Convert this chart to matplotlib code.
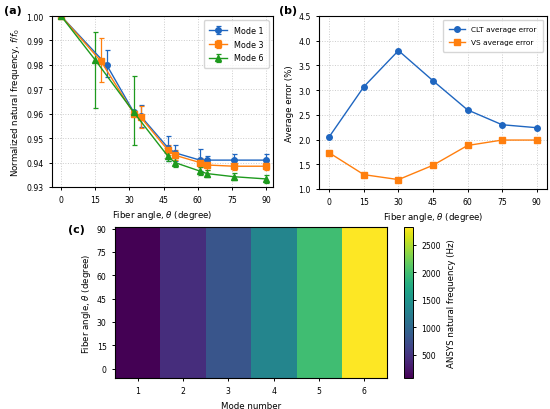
import matplotlib
matplotlib.use("Agg")
import matplotlib.pyplot as plt
import numpy as np

# ---------------- data ----------------
# panel (a)
m1_x = [0, 20, 32, 35, 47, 50, 61, 64, 76, 90]
m1_y = [1.000, 0.980, 0.9605, 0.9590, 0.946, 0.944, 0.941, 0.941, 0.941, 0.941]
m1_err_lo = [0.0, 0.005, 0.0, 0.0045, 0.0055, 0.0035, 0.0045, 0.0025, 0.0025, 0.0025]
m1_err_hi = [0.0, 0.006, 0.0, 0.0045, 0.0050, 0.0030, 0.0045, 0.0015, 0.0025, 0.0025]

m3_x = [0, 17.5, 32, 35, 47, 50, 61, 64, 76, 90]
m3_y = [1.000, 0.9815, 0.960, 0.9585, 0.945, 0.943, 0.940, 0.939, 0.9385, 0.9385]
m3_err_lo = [0.0, 0.0085, 0.0, 0.0045, 0.002, 0.002, 0.002, 0.002, 0.0015, 0.0015]
m3_err_hi = [0.0, 0.0095, 0.0, 0.0045, 0.002, 0.002, 0.002, 0.002, 0.0015, 0.0015]

m6_x = [0, 15, 32, 47, 50, 61, 64, 76, 90]
m6_y = [1.000, 0.982, 0.9605, 0.9425, 0.940, 0.9365, 0.9355, 0.9342, 0.9333]
m6_err_lo = [0.0, 0.0195, 0.0132, 0.002, 0.002, 0.0015, 0.0015, 0.0015, 0.0015]
m6_err_hi = [0.0, 0.0115, 0.0148, 0.002, 0.002, 0.0015, 0.0015, 0.0015, 0.0015]

# panel (b)
angles_b = [0, 15, 30, 45, 60, 75, 90]
clt_err = [2.06, 3.07, 3.80, 3.19, 2.60, 2.30, 2.24]
vs_err = [1.73, 1.29, 1.19, 1.48, 1.88, 1.99, 1.99]

# panel (c)
modes = [1, 2, 3, 4, 5, 6]
angles_c = [0, 15, 30, 45, 60, 75, 90]
mode_freq = [75, 430, 800, 1330, 1980, 2822]  # Hz (ANSYS), per mode
freq_table = [[f for f in mode_freq] for _ in angles_c]

# ---------------- figure ----------------
plt.rcParams['font.family'] = ['DejaVu Sans']
plt.rcParams['font.size'] = 5.5
plt.rcParams['axes.linewidth'] = 0.8

fig = plt.figure(figsize=(5.5, 4.1), dpi=100)

blue = '#1f66c0'
orange = '#ff7f0e'
green = '#1e9a1e'
LAB = 6.2
TK = 5.6

# (a)
axa = fig.add_axes([0.0945, 0.5415, 0.4015, 0.417])
for x, y, elo, ehi, c, mk, lab in [
        (m1_x, m1_y, m1_err_lo, m1_err_hi, blue, 'o', 'Mode 1'),
        (m3_x, m3_y, m3_err_lo, m3_err_hi, orange, 's', 'Mode 3'),
        (m6_x, m6_y, m6_err_lo, m6_err_hi, green, '^', 'Mode 6')]:
    axa.errorbar(x, y, yerr=[elo, ehi], color=c, marker=mk, markersize=4, lw=1.0,
                 capsize=1.8, elinewidth=0.9, capthick=0.9, label=lab)
axa.set_ylim(0.93, 1.0)
axa.set_xlim(-4, 93)
axa.set_xticks([0, 15, 30, 45, 60, 75, 90])
axa.set_yticks([0.93, 0.94, 0.95, 0.96, 0.97, 0.98, 0.99, 1.00])
axa.yaxis.set_major_formatter(matplotlib.ticker.FormatStrFormatter('%.2f'))
axa.grid(True, ls=':', color='#cccccc', lw=0.7)
axa.set_xlabel(r'Fiber angle, $\theta$ (degree)', fontsize=LAB, labelpad=3)
axa.set_ylabel(r'Normalized natural frequency, $f/f_0$', fontsize=LAB, labelpad=3)
axa.legend(loc='upper right', fontsize=5.8, borderpad=0.7, handlelength=2.2,
           labelspacing=0.6)
axa.tick_params(labelsize=TK, length=2.5, width=0.7)

# (b)
axb = fig.add_axes([0.58, 0.5366, 0.4145, 0.422])
axb.plot(angles_b, clt_err, color=blue, marker='o', markersize=4, lw=1.0,
         label='CLT average error')
axb.plot(angles_b, vs_err, color=orange, marker='s', markersize=4, lw=1.0,
         label='VS average error')
axb.set_ylim(1.0, 4.5)
axb.set_xlim(-4.5, 94.5)
axb.set_xticks(angles_b)
axb.set_yticks([1.0, 1.5, 2.0, 2.5, 3.0, 3.5, 4.0, 4.5])
axb.grid(True, ls=':', color='#cccccc', lw=0.7)
axb.set_xlabel(r'Fiber angle, $\theta$ (degree)', fontsize=LAB, labelpad=3)
axb.set_ylabel('Average error (%)', fontsize=LAB, labelpad=3)
axb.legend(loc='upper right', fontsize=5.3, borderpad=0.9, handlelength=2.2,
           labelspacing=0.9)
axb.tick_params(labelsize=TK, length=2.5, width=0.7)

# (c)
axc = fig.add_axes([0.209, 0.0756, 0.4946, 0.3684])
data = np.array(freq_table)
im = axc.imshow(data, origin='lower', aspect='auto', cmap='viridis',
                extent=[0.5, 6.5, -6, 91], vmin=min(mode_freq), vmax=max(mode_freq))
axc.set_xticks(modes)
axc.set_yticks(angles_c)
axc.set_xlabel('Mode number', fontsize=LAB, labelpad=4)
axc.set_ylabel(r'Fiber angle, $\theta$ (degree)', fontsize=LAB, labelpad=3)
axc.tick_params(labelsize=TK, length=2.5, width=0.7)

cax = fig.add_axes([0.7345, 0.0756, 0.0164, 0.3684])
cb = fig.colorbar(im, cax=cax)
cb.set_ticks([500, 1000, 1500, 2000, 2500])
cb.set_label('ANSYS natural frequency (Hz)', fontsize=LAB, labelpad=4)
cb.ax.tick_params(labelsize=TK, length=2.5, width=0.7)
cb.outline.set_linewidth(0.7)

fig.text(0.007, 0.972, '(a)', fontsize=8, fontweight='bold', va='center')
fig.text(0.508, 0.972, '(b)', fontsize=8, fontweight='bold', va='center')
fig.text(0.123, 0.44, '(c)', fontsize=8, fontweight='bold', va='center')

fig.savefig('out.png', dpi=100)
